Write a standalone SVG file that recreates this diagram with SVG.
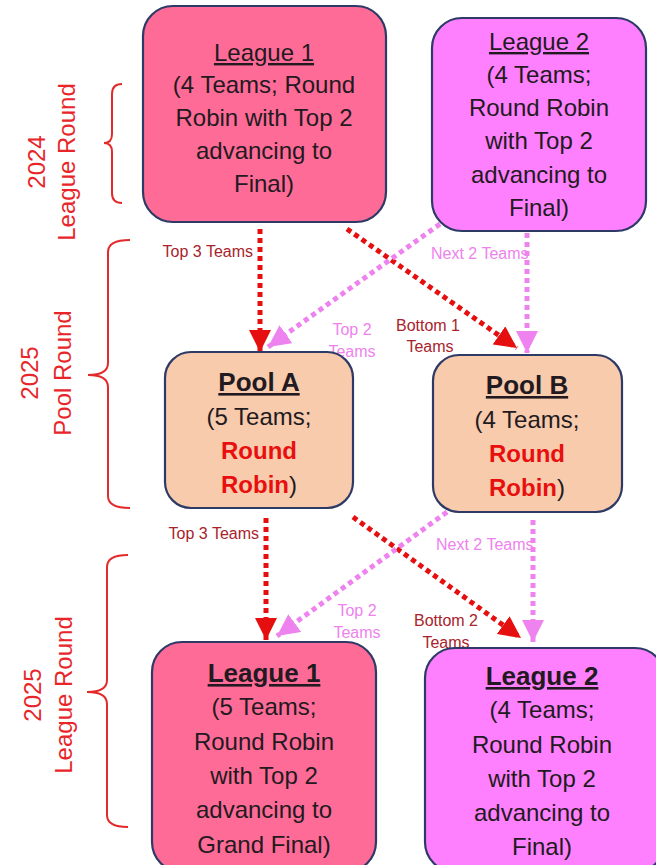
<svg xmlns="http://www.w3.org/2000/svg" width="656" height="865" viewBox="0 0 656 865">
<defs>
<style>
.box{stroke:#2E3A66;stroke-width:2.2}
.l1{fill:#FE6B97}
.l2{fill:#FF80FF}
.pool{fill:#F8CBAD}
.t{font-family:"Liberation Sans",Arial,sans-serif;font-size:24px;fill:#221A20;text-anchor:middle}
.b{font-weight:bold;font-size:26px}
.u{text-decoration:underline}
.rr{fill:#E8100E;font-weight:bold}
.lab{font-family:"Liberation Sans",Arial,sans-serif;font-size:16px}
.dr{fill:#A8232B}
.vi{fill:#EE82EE}
.side{font-family:"Liberation Sans",Arial,sans-serif;font-size:24px;fill:#E8262A;text-anchor:middle}
.brace{fill:none;stroke:#E32A2A;stroke-width:2}
.red{fill:none;stroke:#E60F0F;stroke-width:5;stroke-dasharray:5 4}
.vio{fill:none;stroke:#EE82EE;stroke-width:5;stroke-dasharray:5 4}
</style>
<marker id="ahR" markerUnits="userSpaceOnUse" markerWidth="22" markerHeight="22" viewBox="0 0 10 10" refX="10" refY="5" orient="auto"><path d="M0,0 L10,5 L0,10 z" fill="#E60F0F"/></marker>
<marker id="ahV" markerUnits="userSpaceOnUse" markerWidth="22" markerHeight="22" viewBox="0 0 10 10" refX="10" refY="5" orient="auto"><path d="M0,0 L10,5 L0,10 z" fill="#EE82EE"/></marker>
</defs>
<rect width="656" height="865" fill="#ffffff"/>

<g id="side-labels">
<path class="brace" d="M122 84 Q112 84 112 94 L112 134 Q112 143 104 143 Q112 143 112 152 L112 193 Q112 203 122 203"/>
<text class="side" transform="rotate(-90 45 162)" x="45" y="162">2024</text>
<text class="side" transform="rotate(-90 75 162)" x="75" y="162">League Round</text>

<path class="brace" d="M130 240 Q108 240 108 252 L108 363 Q108 375 88 375 Q108 375 108 387 L108 496 Q108 508 130 508"/>
<text class="side" transform="rotate(-90 38 373)" x="38" y="373">2025</text>
<text class="side" transform="rotate(-90 71 373)" x="71" y="373">Pool Round</text>

<path class="brace" d="M128 555 Q107 555 107 567 L107 680 Q107 692 87 692 Q107 692 107 704 L107 815 Q107 827 128 827"/>
<text class="side" transform="rotate(-90 41 695)" x="41" y="695">2025</text>
<text class="side" transform="rotate(-90 72 695)" x="72" y="695">League Round</text>
</g>

<g id="edge-labels">
<text class="lab dr" x="253" y="257" text-anchor="end">Top 3 Teams</text>
<text class="lab vi" x="431" y="259">Next 2 Teams</text>
<text class="lab vi" x="352" y="335" text-anchor="middle">Top 2</text>
<text class="lab vi" x="352" y="357" text-anchor="middle">Teams</text>
<text class="lab dr" x="428" y="331" text-anchor="middle">Bottom 1</text>
<text class="lab dr" x="430" y="352" text-anchor="middle">Teams</text>

<text class="lab dr" x="259" y="539" text-anchor="end">Top 3 Teams</text>
<text class="lab vi" x="436" y="550">Next 2 Teams</text>
<text class="lab vi" x="357" y="616" text-anchor="middle">Top 2</text>
<text class="lab vi" x="357" y="638" text-anchor="middle">Teams</text>
<text class="lab dr" x="446" y="626" text-anchor="middle">Bottom 2</text>
<text class="lab dr" x="446" y="648" text-anchor="middle">Teams</text>
</g>

<g id="connectors">
<path class="red" d="M260 229 L260 352" marker-end="url(#ahR)"/>
<path class="red" d="M347 229 L517 348" marker-end="url(#ahR)"/>
<path class="vio" d="M440 224 L268 347" marker-end="url(#ahV)"/>
<path class="vio" d="M527 233 L527 353" marker-end="url(#ahV)"/>

<path class="red" d="M266 518 L266 640" marker-end="url(#ahR)"/>
<path class="red" d="M353 517 L521 638" marker-end="url(#ahR)"/>
<path class="vio" d="M447 512 L277 636" marker-end="url(#ahV)"/>
<path class="vio" d="M533 520 L533 642" marker-end="url(#ahV)"/>
</g>

<g id="league1-2024">
<rect class="box l1" x="143" y="6" width="243" height="216" rx="30"/>
<text class="t u" x="264" y="61">League 1</text>
<text class="t" x="264" y="93">(4 Teams; Round</text>
<text class="t" x="264" y="126">Robin with Top 2</text>
<text class="t" x="264" y="159">advancing to</text>
<text class="t" x="264" y="192">Final)</text>
</g>

<g id="league2-2024">
<rect class="box l2" x="432" y="18" width="214" height="213" rx="30"/>
<text class="t u" x="539" y="50">League 2</text>
<text class="t" x="539" y="83">(4 Teams;</text>
<text class="t" x="539" y="116">Round Robin</text>
<text class="t" x="539" y="149">with Top 2</text>
<text class="t" x="539" y="183">advancing to</text>
<text class="t" x="539" y="216">Final)</text>
</g>

<g id="pool-a">
<rect class="box pool" x="165" y="352" width="188" height="156" rx="26"/>
<text class="t b u" x="259" y="391">Pool A</text>
<text class="t" x="259" y="425">(5 Teams;</text>
<text class="t rr" x="259" y="459">Round</text>
<text class="t" x="259" y="493"><tspan class="rr">Robin</tspan>)</text>
</g>

<g id="pool-b">
<rect class="box pool" x="433" y="355" width="189" height="157" rx="26"/>
<text class="t b u" x="527" y="394">Pool B</text>
<text class="t" x="527" y="428">(4 Teams;</text>
<text class="t rr" x="527" y="462">Round</text>
<text class="t" x="527" y="496"><tspan class="rr">Robin</tspan>)</text>
</g>

<g id="league1-2025">
<rect class="box l1" x="152" y="642" width="224" height="230" rx="30"/>
<text class="t b u" x="264" y="682">League 1</text>
<text class="t" x="264" y="715">(5 Teams;</text>
<text class="t" x="264" y="750">Round Robin</text>
<text class="t" x="264" y="784">with Top 2</text>
<text class="t" x="264" y="818">advancing to</text>
<text class="t" x="264" y="853">Grand Final)</text>
</g>

<g id="league2-2025">
<rect class="box l2" x="425" y="648" width="240" height="224" rx="30"/>
<text class="t b u" x="542" y="685">League 2</text>
<text class="t" x="542" y="718">(4 Teams;</text>
<text class="t" x="542" y="753">Round Robin</text>
<text class="t" x="542" y="787">with Top 2</text>
<text class="t" x="542" y="821">advancing to</text>
<text class="t" x="542" y="855">Final)</text>
</g>
</svg>
